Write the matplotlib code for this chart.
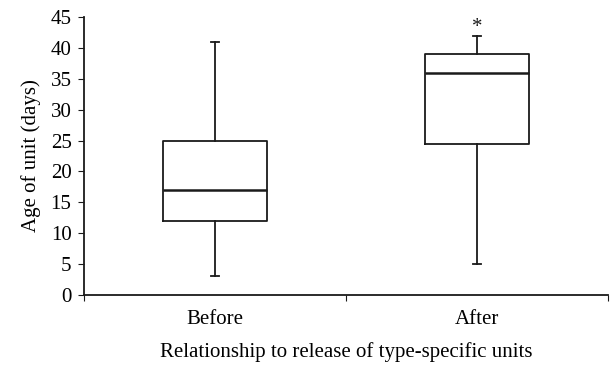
import matplotlib
matplotlib.use("Agg")
import matplotlib.pyplot as plt

plt.rcParams['font.family'] = ['Liberation Serif', 'DejaVu Serif']

groups = ["Before", "After"]
whislo = [3, 5]
q1 = [12, 24.5]
med = [17, 36]
q3 = [25, 39]
whishi = [41, 42]
outliers = [[], [44]]

stats = []
for i, g in enumerate(groups):
    stats.append(dict(label=g, whislo=whislo[i], q1=q1[i], med=med[i],
                      q3=q3[i], whishi=whishi[i], fliers=[]))

ink = "#1a1a1a"
fig = plt.figure(figsize=(6.1, 3.66), dpi=100)
ax = fig.add_axes([84/610, (366-295)/366, (608-84)/610, (295-17)/366])

ax.bxp(stats, positions=[1, 2], widths=0.4, showfliers=False,
       boxprops=dict(color=ink, lw=1.3),
       medianprops=dict(color=ink, lw=1.8),
       whiskerprops=dict(color=ink, lw=1.3),
       capprops=dict(color=ink, lw=1.3), capwidths=0.028)

# outlier marked with asterisk
for i, pts in enumerate(outliers):
    for v in pts:
        ax.annotate("*", (i + 1, v), xytext=(0, -3), textcoords="offset points",
                    ha="center", va="center", fontsize=15, color=ink)

ax.set_xlim(0.5, 2.5)
ax.set_ylim(0, 45)
ax.set_yticks(range(0, 46, 5))
ax.set_xticks([0.5, 1.5, 2.5])
ax.set_xticklabels([])
ax.set_xticks([1, 2], minor=True)
ax.set_xticklabels(groups, minor=True)
ax.tick_params(axis="x", which="minor", length=0, pad=11, labelsize=15)
ax.tick_params(axis="x", which="major", length=4, direction="out", color=ink)
ax.tick_params(axis="y", length=4, direction="out", labelsize=15, color=ink, pad=5)

for s in ["top", "right"]:
    ax.spines[s].set_visible(False)
for s in ["left", "bottom"]:
    ax.spines[s].set_color(ink)
    ax.spines[s].set_linewidth(1.3)

ax.set_ylabel("Age of unit (days)", fontsize=15, labelpad=7)
ax.set_xlabel("Relationship to release of type-specific units", fontsize=15, labelpad=9)

plt.savefig("out.png", dpi=100)
